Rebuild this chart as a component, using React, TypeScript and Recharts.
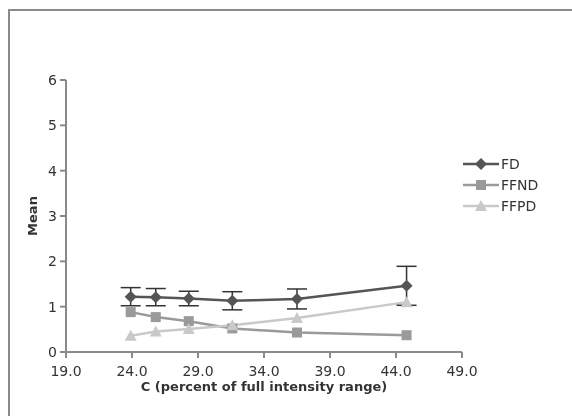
import React from "react";
import { ComposedChart, Line, XAxis, YAxis, ErrorBar } from "recharts";

const cValues = [23.9, 25.8, 28.3, 31.6, 36.5, 44.8];
const fdMean = [1.22, 1.21, 1.18, 1.13, 1.17, 1.46];
const fdError = [0.2, 0.19, 0.16, 0.2, 0.22, 0.43];
const ffndMean = [0.88, 0.77, 0.68, 0.52, 0.43, 0.37];
const ffpdMean = [0.36, 0.45, 0.51, 0.59, 0.75, 1.1];

const xTicks = [19, 24, 29, 34, 39, 44, 49];
const yTicks = [0, 1, 2, 3, 4, 5, 6];

const data = cValues.map((c, i) => ({
    c,
    fd: fdMean[i],
    fdErr: fdError[i],
    ffnd: ffndMean[i],
    ffpd: ffpdMean[i],
}));

const FONT = "'DejaVu Sans', Verdana, sans-serif";
const AXIS_COLOR = "#8a8a8a";
const TEXT_COLOR = "#333";

const SERIES = [
    { key: "fd", name: "FD", color: "#555555", shape: "diamond" },
    { key: "ffnd", name: "FFND", color: "#9a9a9a", shape: "square" },
    { key: "ffpd", name: "FFPD", color: "#c9c9c9", shape: "triangle" },
];

function Marker({ cx, cy, shape, color }: any) {
    if (cx == null || cy == null) return null;
    if (shape === "diamond") {
        return <path d={`M${cx},${cy - 6}L${cx + 6},${cy}L${cx},${cy + 6}L${cx - 6},${cy}Z`} fill={color} />;
    }
    if (shape === "square") {
        return <rect x={cx - 5} y={cy - 5} width={10} height={10} fill={color} />;
    }
    return <path d={`M${cx},${cy - 6}L${cx + 6},${cy + 5}L${cx - 6},${cy + 5}Z`} fill={color} />;
}

function LegendBox() {
    return (
        <div style={{ position: "absolute", left: 453, top: 142, fontFamily: FONT, fontSize: 14, color: TEXT_COLOR }}>
            {SERIES.map((s) => (
                <div key={s.key} style={{ display: "flex", alignItems: "center", height: 21 }}>
                    <svg width={38} height={16}>
                        <line x1={0} y1={8} x2={36} y2={8} stroke={s.color} strokeWidth={2.5} />
                        <Marker cx={18} cy={8} shape={s.shape} color={s.color} />
                    </svg>
                    <span>{s.name}</span>
                </div>
            ))}
        </div>
    );
}

function YLabel({ viewBox }: any) {
    const x = viewBox.x + 24;
    const y = viewBox.y + viewBox.height / 2;
    return (
        <text x={x} y={y} transform={`rotate(-90, ${x}, ${y})`} textAnchor="middle" dominantBaseline="central"
            fontFamily={FONT} fontSize={13} fontWeight="bold" fill={TEXT_COLOR}>
            Mean
        </text>
    );
}

function XLabel({ viewBox }: any) {
    return (
        <text x={viewBox.x + viewBox.width / 2} y={viewBox.y + 39} textAnchor="middle"
            fontFamily={FONT} fontSize={13} fontWeight="bold" fill={TEXT_COLOR}>
            C (percent of full intensity range)
        </text>
    );
}

export default function App() {
    const tick = { fontFamily: FONT, fontSize: 14, fill: TEXT_COLOR };
    return (
        <div style={{ position: "fixed", left: 8, top: 9, width: 564, height: 407, borderTop: "2px solid #8a8a8a", borderLeft: "2px solid #8a8a8a", boxSizing: "border-box", overflow: "hidden" }}>
            <div style={{ position: "absolute", left: -2, top: -3 }}>
                <ComposedChart width={564} height={400} data={data} margin={{ top: 72, right: 110, left: 0, bottom: 0 }}>
                    <XAxis
                        type="number"
                        dataKey="c"
                        domain={[19, 49]}
                        ticks={xTicks}
                        tickFormatter={(v: number) => v.toFixed(1)}
                        stroke={AXIS_COLOR}
                        strokeWidth={2}
                        tickSize={6}
                        tickMargin={8}
                        tick={tick}
                        height={56}
                        interval={0}
                        label={<XLabel />}
                    />
                    <YAxis
                        type="number"
                        domain={[0, 6]}
                        ticks={yTicks}
                        stroke={AXIS_COLOR}
                        strokeWidth={2}
                        tickSize={6}
                        tickMargin={3}
                        tick={tick}
                        width={58}
                        interval={0}
                        label={<YLabel />}
                    />
                    <Line
                        dataKey="ffnd"
                        name="FFND"
                        stroke="#9a9a9a"
                        strokeWidth={2.5}
                        dot={(p: any) => <Marker key={`n${p.index}`} cx={p.cx} cy={p.cy} shape="square" color="#9a9a9a" />}
                        isAnimationActive={false}
                    />
                    <Line
                        dataKey="ffpd"
                        name="FFPD"
                        stroke="#c9c9c9"
                        strokeWidth={2.5}
                        dot={(p: any) => <Marker key={`p${p.index}`} cx={p.cx} cy={p.cy} shape="triangle" color="#c9c9c9" />}
                        isAnimationActive={false}
                    />
                    <Line
                        dataKey="fd"
                        name="FD"
                        stroke="#555555"
                        strokeWidth={2.5}
                        dot={(p: any) => <Marker key={`d${p.index}`} cx={p.cx} cy={p.cy} shape="diamond" color="#555555" />}
                        isAnimationActive={false}
                    >
                        <ErrorBar dataKey="fdErr" direction="y" width={10} stroke="#333" strokeWidth={1.5} />
                    </Line>
                </ComposedChart>
            </div>
            <LegendBox />
        </div>
    );
}
